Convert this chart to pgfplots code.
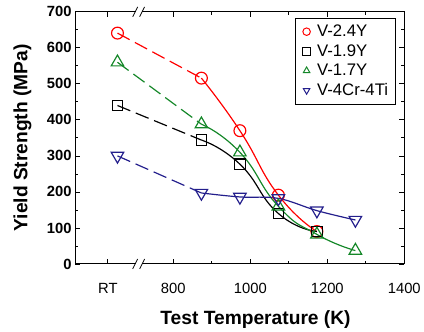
\documentclass[border=0pt]{standalone}
\usepackage{fontspec}
\setmainfont{Liberation Sans}
\usepackage{pgfplots}
\pgfplotsset{compat=1.18}
\definecolor{cred}{RGB}{255,0,0}
\definecolor{cgreen}{RGB}{20,135,40}
\definecolor{cblue}{RGB}{35,30,140}
\begin{document}
\begin{tikzpicture}
\begin{axis}[
  scale only axis, width=333bp, height=255bp,
  xmin=545, xmax=1400, ymin=0, ymax=700,
  clip=false,
  xtick={630,800,1000,1200,1400}, xticklabels={RT,800,1000,1200,1400},
  minor xtick={900,1100,1300},
  ytick={0,100,...,700}, minor ytick={50,150,...,650},
  tick align=inside, major tick length=5bp, minor tick length=3bp,
  /pgf/number format/assume math mode=true,
  xticklabel style={font=\fontsize{15}{15}\selectfont, yshift=-16bp},
  yticklabel style={font=\fontsize{15}{15}\selectfont\bfseries},
  xlabel={Test Temperature (K)}, ylabel={Yield Strength (MPa)},
  label style={font=\fontsize{19.5}{19.5}\selectfont\bfseries},
  xlabel style={xshift=16bp, yshift=-10bp},
  ylabel style={yshift=9bp},
  axis line style={line width=1bp},
  every tick/.style={black, line width=0.8bp},
  legend style={at={(rel axis cs:1,1)}, xshift=-9bp, yshift=-6bp, anchor=north east,
    font=\fontsize{17}{17}\selectfont, draw=black, line width=0.8bp,
    inner xsep=5bp, inner ysep=5bp, row sep=2.5bp},
  legend cell align=left,
  legend image code/.code={\draw[solid,mark size=3.8bp,line width=1bp] plot coordinates {(0bp,0bp)};\path (-6bp,0bp) (8bp,0bp);},
]
% V-2.4Y
\addplot[cred, line width=1.2bp, dash pattern=on 14bp off 6bp, mark=o, mark size=6bp, mark indices={1}, mark options={solid}, forget plot]
  coordinates {(655,641) (873,516)};
\addplot[cred, line width=1.2bp, smooth, tension=0.9, mark=o, mark size=6bp]
  coordinates {(873,516) (973,370) (1073,191) (1173,90)};
\addlegendentry{V-2.4Y}
% V-1.9Y
\addplot[black, line width=1.2bp, dash pattern=on 14bp off 6bp, mark=square, mark size=5.3bp, mark indices={1}, mark options={solid}, forget plot]
  coordinates {(655,440) (873,344)};
\addplot[black, line width=1.2bp, smooth, tension=0.9, mark=square, mark size=5.3bp]
  coordinates {(873,344) (973,277) (1073,140) (1173,90)};
\addlegendentry{V-1.9Y}
% V-1.7Y
\addplot[cgreen, line width=1.2bp, dash pattern=on 14bp off 6bp, mark=triangle, mark size=7.3bp, mark indices={1}, mark options={solid}, forget plot]
  coordinates {(655,560) (873,388)};
\addplot[cgreen, line width=1.2bp, smooth, tension=0.9, mark=triangle, mark size=7.3bp]
  coordinates {(873,388) (973,310) (1073,160) (1173,82) (1273,37)};
\addlegendentry{V-1.7Y}
% V-4Cr-4Ti
\addplot[cblue, line width=1.2bp, dash pattern=on 14bp off 6bp, mark=triangle, mark size=7.3bp, mark indices={1}, mark options={solid,rotate=180}, forget plot]
  coordinates {(655,300) (873,197)};
\addplot[cblue, line width=1.2bp, smooth, tension=0.6, mark=triangle, mark size=7.3bp, mark options={rotate=180}]
  coordinates {(873,197) (973,186) (1073,182) (1173,148) (1273,122)};
\addlegendentry{V-4Cr-4Ti}
% axis breaks
\fill[white] ([xshift=-3bp,yshift=-2bp]axis cs:710,0) rectangle ([xshift=3bp,yshift=2bp]axis cs:710,0);
\draw[line width=0.8bp] ([xshift=-6bp,yshift=-5bp]axis cs:710,0) -- ([xshift=-1bp,yshift=5bp]axis cs:710,0);
\draw[line width=0.8bp] ([xshift=1bp,yshift=-5bp]axis cs:710,0) -- ([xshift=6bp,yshift=5bp]axis cs:710,0);
\fill[white] ([xshift=-3bp,yshift=-2bp]axis cs:710,700) rectangle ([xshift=3bp,yshift=2bp]axis cs:710,700);
\draw[line width=0.8bp] ([xshift=-6bp,yshift=-5bp]axis cs:710,700) -- ([xshift=-1bp,yshift=5bp]axis cs:710,700);
\draw[line width=0.8bp] ([xshift=1bp,yshift=-5bp]axis cs:710,700) -- ([xshift=6bp,yshift=5bp]axis cs:710,700);
\path ([shift={(-76bp,-67bp)}]rel axis cs:0,0) rectangle ([shift={(15bp,12bp)}]rel axis cs:1,1);
\end{axis}
\end{tikzpicture}
\end{document}
